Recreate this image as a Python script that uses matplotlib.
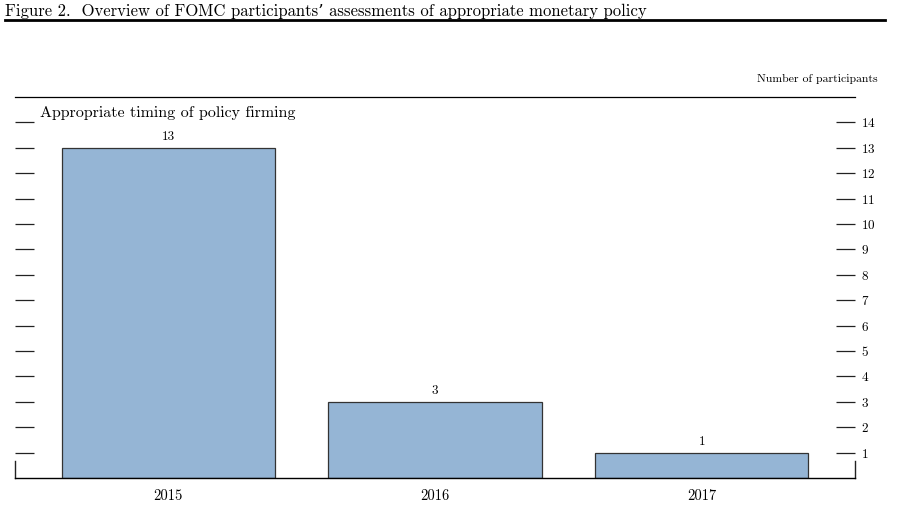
import matplotlib.pyplot as plt
from matplotlib.lines import Line2D

# Datos
years = ['2015', '2016', '2017']
participants = [13, 3, 1]
ticks = list(range(1, 15))

plt.rcParams['font.family'] = ['cmr10', 'DejaVu Serif']
plt.rcParams['axes.formatter.use_mathtext'] = True

fig = plt.figure(figsize=(8.99, 5.16), dpi=100)
W, H = 899, 516

# Ejes: x de 15 a 855 px, y de 97 a 478 px
ax = fig.add_axes([15 / W, 1 - 478 / H, 840 / W, 381 / H])
x = range(len(years))
ax.bar(x, participants, width=0.8, color='#95b5d5', edgecolor='#333333', linewidth=0.9, zorder=2)
for xi, v in zip(x, participants):
    ax.text(xi, v + 0.2, str(v), ha='center', va='bottom', fontsize=9.5)

ax.set_xlim(-0.575, 2.575)
ax.set_ylim(0, 15)
ax.set_xticks(list(x))
ax.set_xticklabels(years, fontsize=10.5)
ax.tick_params(axis='x', length=0, pad=8)

# Marcas en ambos lados, hacia adentro
ax.set_yticks(ticks)
ax.tick_params(axis='y', direction='in', length=13.7, width=0.9, color='#222222',
               left=True, right=True, labelleft=False, labelright=True, labelsize=9.5, pad=4)

for s in ['left', 'right']:
    ax.spines[s].set_visible(False)
ax.spines['top'].set_linewidth(0.9)
ax.spines['bottom'].set_linewidth(1.0)

# Trozos cortos de los ejes verticales cerca de la base
ax.plot([-0.575, -0.575], [0, 0.67], color='#222222', lw=1.0, clip_on=False)
ax.plot([2.575, 2.575], [0, 0.67], color='#222222', lw=1.0, clip_on=False)

ax.text(25 / 840, 1 - (113 - 97) / 381, 'Appropriate timing of policy firming',
        transform=ax.transAxes, ha='left', va='center', fontsize=11.5)

fig.text(878 / W, 1 - 79 / H, 'Number of participants', ha='right', va='center', fontsize=8.5)

# Titulo y linea gruesa
fig.text(5 / W, 1 - 11 / H, 'Figure 2.  Overview of FOMC participants\u2019 assessments of appropriate monetary policy',
         ha='left', va='center', fontsize=12)
fig.add_artist(Line2D([5 / W, 885 / W], [1 - 20 / H, 1 - 20 / H], color='black', lw=2.0))

fig.savefig('out.png', dpi=100)
